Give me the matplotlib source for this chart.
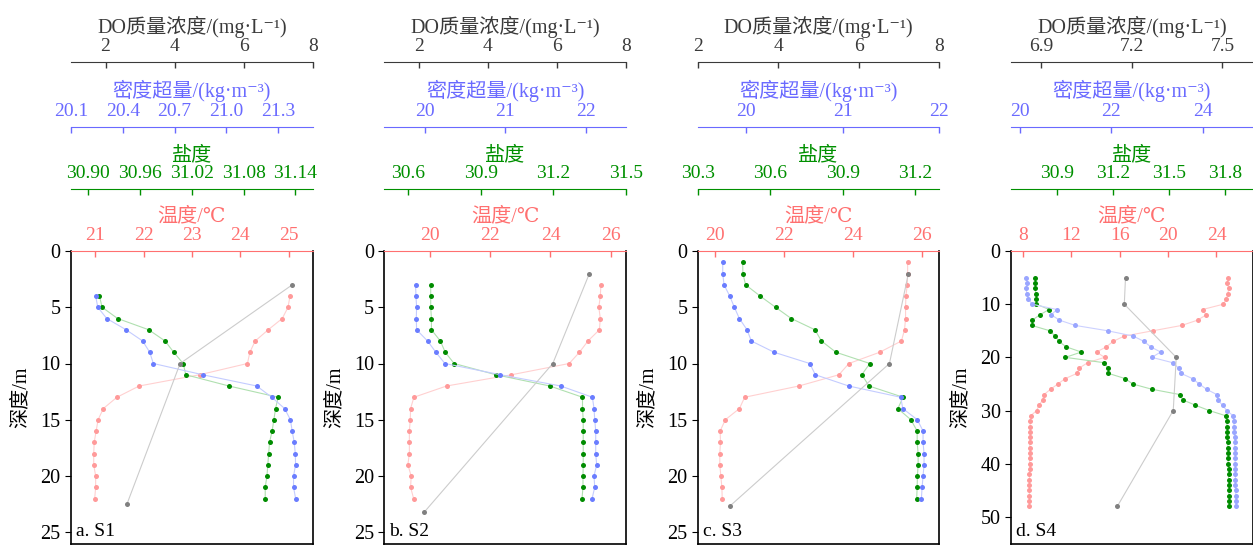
import matplotlib
matplotlib.use('Agg')
import matplotlib.pyplot as plt
import numpy as np

plt.rcParams['font.family'] = ['Liberation Serif', 'DejaVu Serif', 'Noto Sans CJK SC']
plt.rcParams['font.size'] = 14

# ---- datos por estacion ----
# S1
prof1 = list(range(4, 23))
temp1 = [25.03, 24.99, 24.87, 24.58, 24.31, 24.20, 24.15, 23.16, 21.91, 21.45, 21.17, 21.06,
         21.02, 20.98, 20.97, 20.97, 21.01, 21.01, 20.99]
sal1 = [30.913, 30.916, 30.934, 30.970, 30.989, 30.999, 31.010, 31.013, 31.063, 31.120, 31.117,
        31.115, 31.113, 31.110, 31.109, 31.108, 31.107, 31.105, 31.105]
dens1 = [20.243, 20.255, 20.307, 20.419, 20.515, 20.556, 20.577, 20.863, 21.176, 21.263, 21.337,
         21.371, 21.381, 21.393, 21.399, 21.401, 21.389, 21.389, 21.401]
prof_do1 = [3, 10, 22.5]
do1 = [7.41, 4.16, 2.62]

# S2
prof2 = list(range(3, 23))
temp2 = [25.67, 25.65, 25.60, 25.65, 25.62, 25.24, 24.96, 24.62, 22.71, 20.56, 19.48, 19.37,
         19.36, 19.33, 19.33, 19.33, 19.28, 19.39, 19.37, 19.47]
sal2 = [30.692, 30.692, 30.692, 30.695, 30.695, 30.732, 30.752, 30.789, 30.962, 31.185, 31.320,
        31.320, 31.323, 31.323, 31.323, 31.323, 31.323, 31.322, 31.322, 31.318]
dens2 = [19.888, 19.893, 19.901, 19.897, 19.901, 20.037, 20.140, 20.252, 20.942, 21.690, 22.083,
         22.103, 22.112, 22.124, 22.124, 22.124, 22.136, 22.103, 22.112, 22.079]
prof_do2 = [2, 10, 23.2]
do2 = [6.94, 5.88, 2.16]

# S3
prof3 = list(range(1, 23))
temp3 = [25.58, 25.58, 25.57, 25.53, 25.52, 25.52, 25.49, 25.40, 24.77, 23.88, 23.59, 22.43,
         20.86, 20.71, 20.30, 20.15, 20.16, 20.14, 20.14, 20.17, 20.20, 20.21]
sal3 = [30.486, 30.487, 30.498, 30.558, 30.622, 30.687, 30.785, 30.812, 30.872, 31.012, 30.979,
        31.009, 31.150, 31.128, 31.182, 31.208, 31.208, 31.212, 31.212, 31.209, 31.208, 31.206]
dens3 = [19.759, 19.759, 19.772, 19.831, 19.879, 19.931, 20.010, 20.055, 20.290, 20.659, 20.717,
         21.062, 21.600, 21.621, 21.772, 21.831, 21.831, 21.841, 21.841, 21.831, 21.821, 21.814]
prof_do3 = [2, 10, 22.7]
do3 = [7.23, 6.76, 2.79]

# S4
prof4 = list(range(5, 49))
temp4 = [24.99, 24.90, 25.01, 24.96, 24.82, 24.58, 22.85, 23.15, 22.44, 21.12, 18.74, 16.36,
         15.45, 14.90, 14.08, 14.74, 13.34, 12.66, 12.47, 11.48, 10.88, 10.27, 9.73, 9.62,
         9.32, 9.12, 8.62, 8.60, 8.58, 8.57, 8.56, 8.56, 8.55, 8.55, 8.54, 8.54, 8.54, 8.53,
         8.53, 8.53, 8.53, 8.52, 8.52, 8.52]
sal4 = [30.778, 30.781, 30.781, 30.783, 30.787, 30.787, 30.855, 30.805, 30.765, 30.762, 30.859,
        30.887, 30.909, 30.945, 31.028, 30.943, 31.150, 31.173, 31.173, 31.265, 31.304, 31.408,
        31.559, 31.574, 31.642, 31.716, 31.807, 31.811, 31.812, 31.814, 31.814, 31.816, 31.816,
        31.818, 31.818, 31.818, 31.820, 31.820, 31.820, 31.820, 31.822, 31.822, 31.822, 31.822]
dens4 = [20.131, 20.161, 20.131, 20.146, 20.182, 20.263, 20.803, 20.686, 20.861, 21.212, 21.920,
         22.482, 22.715, 22.861, 23.080, 22.890, 23.343, 23.474, 23.526, 23.781, 23.927, 24.088,
         24.314, 24.336, 24.438, 24.533, 24.672, 24.686, 24.693, 24.700, 24.701, 24.708, 24.708,
         24.715, 24.715, 24.715, 24.722, 24.722, 24.722, 24.722, 24.730, 24.730, 24.730, 24.730]
prof_do4 = [5, 10, 20, 30, 48]
do4 = [7.179, 7.175, 7.347, 7.337, 7.152]

etiquetas = ['a. S1', 'b. S2', 'c. S3', 'd. S4']

# ---- ejes (limites y marcas) ----
lim_temp = [(20.5, 25.5), (18.5, 26.5), (19.5, 26.5), (7, 27)]
tick_temp = [['21', '22', '23', '24', '25'], ['20', '22', '24', '26'], ['20', '22', '24', '26'],
             ['8', '12', '16', '20', '24']]
lim_sal = [(30.88, 31.16), (30.5, 31.5), (30.3, 31.3), (30.65, 31.95)]
tick_sal = [['30.90', '30.96', '31.02', '31.08', '31.14'], ['30.6', '30.9', '31.2', '31.5'],
            ['30.3', '30.6', '30.9', '31.2'], ['30.9', '31.2', '31.5', '31.8']]
lim_dens = [(20.1, 21.5), (19.5, 22.5), (19.5, 22.0), (19.8, 25.1)]
tick_dens = [['20.1', '20.4', '20.7', '21.0', '21.3'], ['20', '21', '22'], ['20', '21', '22'],
             ['20', '22', '24']]
lim_do = [(1, 8), (1, 8), (2, 8), (6.8, 7.6)]
tick_do = [['2', '4', '6', '8'], ['2', '4', '6', '8'], ['2', '4', '6', '8'], ['6.9', '7.2', '7.5']]
lim_prof = [26, 26, 26, 55]
tick_prof = [[0, 5, 10, 15, 20, 25]] * 3 + [[0, 10, 20, 30, 40, 50]]

datos = [(prof1, temp1, sal1, dens1, prof_do1, do1),
         (prof2, temp2, sal2, dens2, prof_do2, do2),
         (prof3, temp3, sal3, dens3, prof_do3, do3),
         (prof4, temp4, sal4, dens4, prof_do4, do4)]

# colores: (marcador, linea, texto)
c_temp = ('#ff9a9a', '#ffd0d0', '#ff7070')
c_sal = ('#008c00', '#b0e0b0', '#009000')
c_dens = ('#6a7dff', '#c4ccff', '#6a6aff')
c_dens4 = ('#9aa6ff', '#ccd1ff', '#6a6aff')
c_do = ('#808080', '#cccccc', '#3a3a3a')

fig = plt.figure(figsize=(12.53, 5.48), dpi=100)
izq = [71, 384.3, 697.7, 1011]


def eje_sup(ax, lim, ticks, color, etiqueta, desplaz):
    #Configura un eje x superior desplazado
    ax.set_xlim(lim)
    ax.set_xticks([float(t) for t in ticks])
    ax.set_xticklabels(ticks)
    ax.xaxis.set_ticks_position('top')
    ax.xaxis.set_label_position('top')
    ax.spines['top'].set_position(('outward', desplaz))
    ax.spines['top'].set_color(color[2])
    ax.tick_params(axis='x', direction='in', length=4, width=1, colors=color[2],
                   labelsize=14, pad=5)
    ax.set_xlabel(etiqueta, color=color[2], fontsize=14.5, labelpad=4)


for i in range(4):
    prof, temp, sal, dens, prof_do, do = datos[i]
    ax = fig.add_axes([izq[i] / 1253, 4.5 / 548, 241.7 / 1253, 292.5 / 548])
    ax.set_ylim(lim_prof[i], 0)
    ax.set_yticks(tick_prof[i])
    ax.set_ylabel('深度/m', fontsize=14.5, labelpad=7)
    ax.tick_params(axis='y', direction='out', length=4, labelsize=14.5)
    for s in ['left', 'right', 'bottom']:
        ax.spines[s].set_linewidth(1.2)

    # temperatura en el eje principal
    ax.plot(temp, prof, '-', color=c_temp[1], lw=0.8, zorder=1)
    ax.plot(temp, prof, 'o', color=c_temp[0], ms=3.6, mec='none', zorder=2)

    # salinidad
    ax_s = ax.twiny()
    ax_s.plot(sal, prof, '-', color=c_sal[1], lw=0.8)
    ax_s.plot(sal, prof, 'o', color=c_sal[0], ms=3.6, mec='none')

    # densidad
    cd = c_dens4 if i == 3 else c_dens
    ax_d = ax.twiny()
    ax_d.plot(dens, prof, '-', color=cd[1], lw=0.8)
    ax_d.plot(dens, prof, 'o', color=cd[0], ms=3.6, mec='none')

    # oxigeno disuelto
    ax_o = ax.twiny()
    ax_o.plot(do, prof_do, '-', color=c_do[1], lw=0.8)
    ax_o.plot(do, prof_do, 'o', color=c_do[0], ms=3.6, mec='none')

    # twiny pone el eje principal abajo, asi que se configura al final
    eje_sup(ax, lim_temp[i], tick_temp[i], c_temp, '温度/℃', 0)
    eje_sup(ax_s, lim_sal[i], tick_sal[i], c_sal, '盐度', 44.4)
    eje_sup(ax_d, lim_dens[i], tick_dens[i], cd, '密度超量/(kg·m⁻³)', 89.3)
    eje_sup(ax_o, lim_do[i], tick_do[i], c_do, 'DO质量浓度/(mg·L⁻¹)', 135.9)
    for a in [ax_s, ax_d, ax_o]:
        for s in ['left', 'right', 'bottom']:
            a.spines[s].set_visible(False)

    ax_o.text(0.02, 0.012, etiquetas[i], transform=ax.transAxes, fontsize=14,
              ha='left', va='bottom')

fig.savefig('out.png', dpi=100)
